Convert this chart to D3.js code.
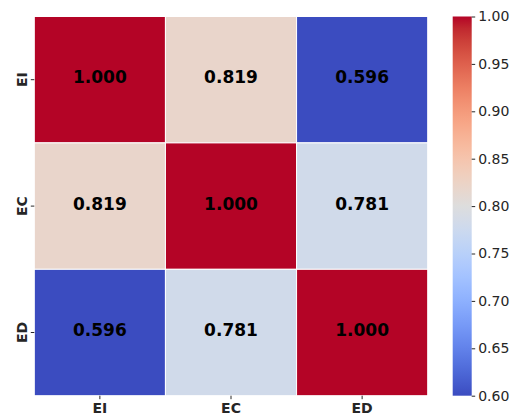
<!DOCTYPE html>
<html>
<head>
<meta charset="utf-8">
<script src="https://cdn.jsdelivr.net/npm/d3@7"></script>
<style>
  html, body { margin: 0; padding: 0; background: #fff; }
  svg { display: block; font-family: "DejaVu Sans", sans-serif; }
</style>
</head>
<body>
<svg id="chart" width="522" height="417"></svg>
<script>
// Correlation matrix between the three indicators
const labels = ["EI", "EC", "ED"];
const rowEI = [1.000, 0.819, 0.596];
const rowEC = [0.819, 1.000, 0.781];
const rowED = [0.596, 0.781, 1.000];
const matrix = [rowEI, rowEC, rowED];
const colorbarTicks = [0.60, 0.65, 0.70, 0.75, 0.80, 0.85, 0.90, 0.95, 1.00];
const vmin = 0.6, vmax = 1.0;

// Diverging "coolwarm" palette stops (position, rgb)
const coolwarmStops = [
  [0.0, "rgb(59,76,192)"], [0.03125, "rgb(68,90,204)"], [0.0625, "rgb(77,104,215)"],
  [0.09375, "rgb(87,117,225)"], [0.125, "rgb(98,130,234)"], [0.15625, "rgb(108,142,241)"],
  [0.1875, "rgb(119,154,247)"], [0.21875, "rgb(130,165,251)"], [0.25, "rgb(141,176,254)"],
  [0.28125, "rgb(152,185,255)"], [0.3125, "rgb(163,194,255)"], [0.34375, "rgb(174,201,253)"],
  [0.375, "rgb(184,208,249)"], [0.40625, "rgb(194,213,244)"], [0.4375, "rgb(204,217,238)"],
  [0.46875, "rgb(213,219,230)"], [0.5, "rgb(221,221,221)"], [0.53125, "rgb(229,216,209)"],
  [0.5625, "rgb(236,211,197)"], [0.59375, "rgb(241,204,185)"], [0.625, "rgb(245,196,173)"],
  [0.65625, "rgb(247,187,160)"], [0.6875, "rgb(247,177,148)"], [0.71875, "rgb(247,166,135)"],
  [0.75, "rgb(244,154,123)"], [0.78125, "rgb(241,141,111)"], [0.8125, "rgb(236,127,99)"],
  [0.84375, "rgb(229,112,88)"], [0.875, "rgb(222,96,77)"], [0.90625, "rgb(213,80,66)"],
  [0.9375, "rgb(203,62,56)"], [0.96875, "rgb(192,40,47)"], [1.0, "rgb(180,4,38)"]
];
const coolwarm = d3.scaleLinear()
  .domain(coolwarmStops.map(d => d[0]))
  .range(coolwarmStops.map(d => d[1]))
  .interpolate(d3.interpolateRgb)
  .clamp(true);
const norm = d3.scaleLinear().domain([vmin, vmax]).range([0, 1]).clamp(true);
const color = v => coolwarm(norm(v));

const svg = d3.select("#chart");
const plotLeft = 34.3, plotTop = 16.5, plotRight = 427.7, plotBottom = 395.7;
const textColor = "#262626";

const x = d3.scaleBand().domain(labels).range([plotLeft, plotRight]);
const y = d3.scaleBand().domain(labels).range([plotTop, plotBottom]);

// Heatmap cells
const cells = [];
matrix.forEach((row, i) => row.forEach((v, j) => cells.push({ r: labels[i], c: labels[j], v })));

svg.append("g").selectAll("rect").data(cells).join("rect")
  .attr("x", d => x(d.c))
  .attr("y", d => y(d.r))
  .attr("width", x.bandwidth())
  .attr("height", y.bandwidth())
  .attr("fill", d => color(d.v))
  .attr("stroke", "#ffffff")
  .attr("stroke-width", 1);

// Cell annotations
svg.append("g").selectAll("text").data(cells).join("text")
  .attr("x", d => x(d.c) + x.bandwidth() / 2)
  .attr("y", d => y(d.r) + y.bandwidth() / 2 - 2.4)
  .attr("text-anchor", "middle")
  .attr("dominant-baseline", "central")
  .attr("font-size", 17)
  .attr("font-weight", "bold")
  .attr("fill", "#000")
  .text(d => d.v.toFixed(3));

// Axes
const xAxis = svg.append("g")
  .attr("transform", `translate(0,${plotBottom})`)
  .call(d3.axisBottom(x).tickSize(3.5).tickPadding(4));
const yAxis = svg.append("g")
  .attr("transform", `translate(${plotLeft},0)`)
  .call(d3.axisLeft(y).tickSize(3.5).tickPadding(4));
[xAxis, yAxis].forEach(g => {
  g.select(".domain").remove();
  g.selectAll(".tick line").attr("stroke", textColor).attr("stroke-width", 1);
  g.selectAll(".tick text")
    .attr("fill", textColor)
    .attr("font-size", 14)
    .attr("font-weight", "bold")
    .attr("font-family", "DejaVu Sans, sans-serif");
});
yAxis.selectAll(".tick text")
  .attr("x", null).attr("dy", null)
  .attr("text-anchor", "middle")
  .attr("dominant-baseline", "central")
  .attr("transform", "translate(-12,0) rotate(-90)");

// Colorbar
const cbLeft = 452.7, cbWidth = 19;
const cbScale = d3.scaleLinear().domain([vmin, vmax]).range([plotBottom, plotTop]);
const defs = svg.append("defs");
const grad = defs.append("linearGradient").attr("id", "cbgrad")
  .attr("x1", 0).attr("y1", 1).attr("x2", 0).attr("y2", 0);
coolwarmStops.forEach(([p, c]) => grad.append("stop").attr("offset", p).attr("stop-color", c));
svg.append("rect")
  .attr("x", cbLeft).attr("y", plotTop)
  .attr("width", cbWidth).attr("height", plotBottom - plotTop)
  .attr("fill", "url(#cbgrad)");

const cbAxis = svg.append("g")
  .attr("transform", `translate(${cbLeft + cbWidth},0)`)
  .call(d3.axisRight(cbScale).tickValues(colorbarTicks).tickFormat(d3.format(".2f")).tickSize(3.5).tickPadding(3));
cbAxis.select(".domain").remove();
cbAxis.selectAll(".tick line").attr("stroke", textColor);
cbAxis.selectAll(".tick text")
  .attr("fill", textColor)
  .attr("font-size", 14)
  .attr("font-family", "DejaVu Sans, sans-serif");
</script>
</body>
</html>
